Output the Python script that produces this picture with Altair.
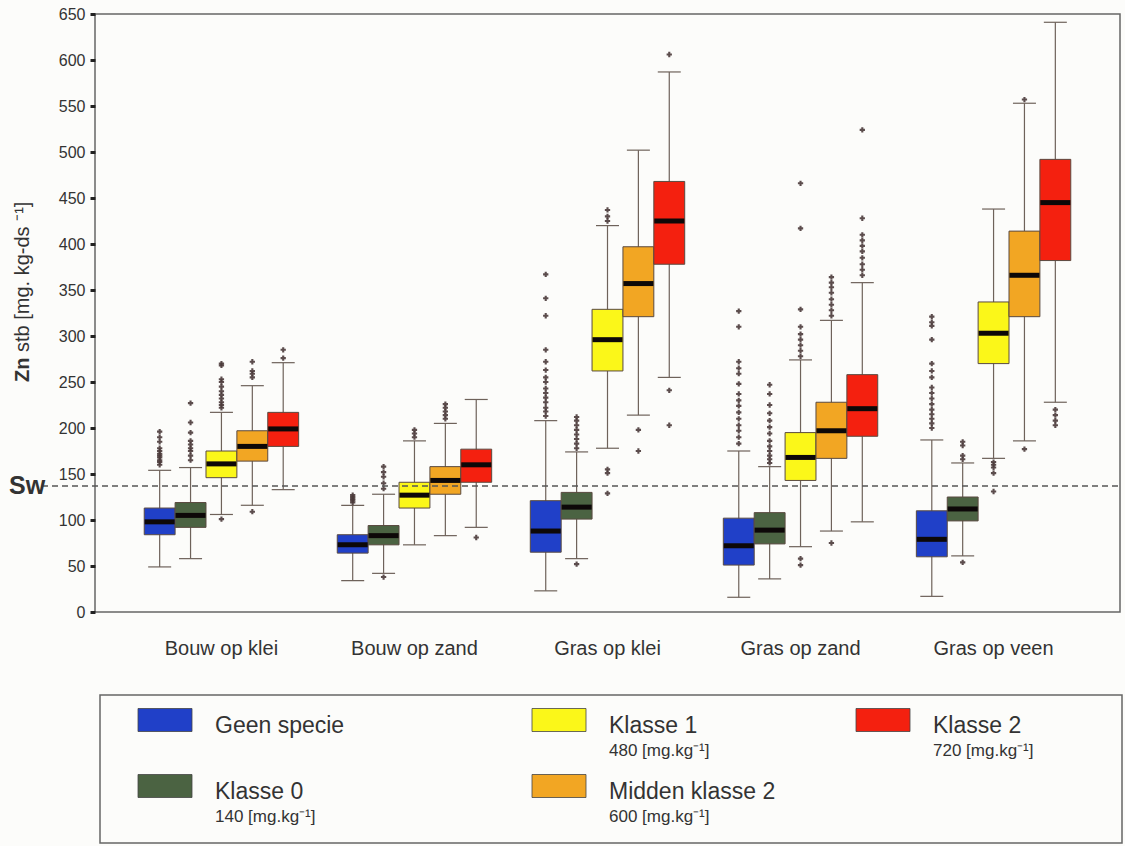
import altair as alt
import pandas as pd

# ---------------- data ----------------
groups = ["Bouw op klei", "Bouw op zand", "Gras op klei", "Gras op zand", "Gras op veen"]
classes = ["Geen specie", "Klasse 0", "Klasse 1", "Midden klasse 2", "Klasse 2"]
class_colors = ["#2040c8", "#4b6342", "#fbf719", "#f2a623", "#f4200f"]

# per group: one value per class (Geen specie, Klasse 0, Klasse 1, Midden klasse 2, Klasse 2)
whisk_lo = {
    "Bouw op klei": [49, 58, 106, 116, 133],
    "Bouw op zand": [34, 42, 73, 83, 92],
    "Gras op klei": [23, 58, 178, 214, 255],
    "Gras op zand": [16, 36, 71, 88, 98],
    "Gras op veen": [17, 61, 167, 186, 228],
}
q1 = {
    "Bouw op klei": [84, 92, 146, 164, 180],
    "Bouw op zand": [64, 73, 113, 128, 141],
    "Gras op klei": [65, 101, 262, 321, 378],
    "Gras op zand": [51, 74, 143, 167, 191],
    "Gras op veen": [60, 99, 270, 321, 382],
}
median = {
    "Bouw op klei": [98, 105, 161, 180, 199],
    "Bouw op zand": [73, 83, 127, 143, 160],
    "Gras op klei": [88, 114, 296, 357, 425],
    "Gras op zand": [72, 89, 168, 197, 221],
    "Gras op veen": [79, 112, 303, 366, 445],
}
q3 = {
    "Bouw op klei": [113, 119, 175, 197, 217],
    "Bouw op zand": [84, 94, 141, 158, 177],
    "Gras op klei": [121, 130, 329, 397, 468],
    "Gras op zand": [102, 108, 195, 228, 258],
    "Gras op veen": [110, 125, 337, 414, 492],
}
whisk_hi = {
    "Bouw op klei": [154, 157, 217, 246, 271],
    "Bouw op zand": [116, 128, 186, 205, 231],
    "Gras op klei": [208, 174, 420, 502, 587],
    "Gras op zand": [175, 158, 274, 317, 358],
    "Gras op veen": [187, 162, 438, 553, 641],
}
outliers = {
    "Bouw op klei": [
        [160, 163, 165, 168, 170, 172, 175, 178, 185, 190, 196],
        [165, 170, 175, 178, 182, 186, 195, 206, 227],
        [101, 222, 225, 228, 232, 236, 240, 245, 250, 253, 268, 270],
        [109, 255, 259, 262, 272],
        [276, 285],
    ],
    "Bouw op zand": [
        [119, 121, 123, 125, 127],
        [38, 134, 140, 147, 152, 158],
        [190, 194, 198],
        [210, 214, 218, 222, 226],
        [81],
    ],
    "Gras op klei": [
        [213, 218, 222, 228, 233, 238, 243, 250, 255, 263, 272, 285, 322, 341, 367],
        [52, 178, 183, 188, 193, 198, 203, 208, 212],
        [129, 151, 155, 425, 430, 437],
        [175, 198],
        [203, 241, 606],
    ],
    "Gras op zand": [
        [183, 190, 197, 203, 210, 217, 224, 230, 237, 248, 259, 265, 272, 310, 327],
        [162, 166, 170, 175, 180, 186, 194, 201, 208, 216, 225, 237, 247],
        [51, 58, 278, 284, 290, 296, 302, 310, 329, 417, 466],
        [75, 322, 328, 334, 340, 347, 353, 358, 364],
        [366, 372, 378, 385, 392, 398, 404, 410, 428, 524],
    ],
    "Gras op veen": [
        [200, 205, 210, 215, 220, 226, 232, 238, 244, 255, 262, 270, 296, 311, 315, 321],
        [54, 166, 170, 181, 185],
        [131, 151, 157, 160, 163],
        [177, 557],
        [203, 208, 214, 220],
    ],
}
sw_value = 137
y_ticks = list(range(0, 651, 50))

legend_cols = [0, 0, 1, 1, 2]
legend_rows = [0, 1, 0, 1, 0]
legend_subs = ["", "140 [mg.kg\u207b\u00b9]", "480 [mg.kg\u207b\u00b9]",
               "600 [mg.kg\u207b\u00b9]", "720 [mg.kg\u207b\u00b9]"]

# ---------------- tables ----------------
box_rows = []
out_rows = []
for g in groups:
    for i, c in enumerate(classes):
        box_rows.append({"group": g, "cls": c, "lo": whisk_lo[g][i], "q1": q1[g][i],
                         "med": median[g][i], "q3": q3[g][i], "hi": whisk_hi[g][i]})
        for v in outliers[g][i]:
            out_rows.append({"group": g, "cls": c, "value": v})
box_df = pd.DataFrame(box_rows)
out_df = pd.DataFrame(out_rows)
leg_df = pd.DataFrame({"cls": classes, "col": legend_cols, "row": legend_rows, "sub": legend_subs})

FONT = "Liberation Sans"
W, H = 1025, 598

xenc = alt.X("group:N", sort=groups,
             scale=alt.Scale(domain=groups, paddingInner=0.2, paddingOuter=0.255),
             axis=alt.Axis(title=None, labelFontSize=20, labelFont=FONT, labelColor="#333",
                           labelPadding=26, ticks=False, domain=False, labelAngle=0))
xoff = alt.XOffset("cls:N", sort=classes, scale=alt.Scale(domain=classes, paddingInner=0))
yscale = alt.Scale(domain=[0, 650], nice=False, zero=True)
color = alt.Color("cls:N", scale=alt.Scale(domain=classes, range=class_colors), legend=None)

base = alt.Chart(box_df)

whisk = base.mark_rule(color="#6e625a", strokeWidth=1.2).encode(
    x=xenc, xOffset=xoff,
    y=alt.Y("lo:Q", scale=yscale,
            axis=alt.Axis(title=None, values=y_ticks, labelFontSize=16, labelFont=FONT,
                          labelColor="#333", tickSize=5, tickWidth=3, tickColor="#222",
                          labelPadding=5, domain=False, grid=False)),
    y2="hi:Q",
)
boxes = base.mark_bar(stroke="#5a4a40", strokeWidth=1, opacity=1).encode(
    x=xenc, xOffset=xoff, y=alt.Y("q1:Q", scale=yscale), y2="q3:Q", color=color
)
meds = base.mark_tick(color="#0d0808", thickness=5, size=30, opacity=1).encode(
    x=xenc, xOffset=xoff, y=alt.Y("med:Q", scale=yscale)
)
cap_lo = base.mark_tick(color="#6e625a", thickness=1.2, size=23, opacity=1).encode(
    x=xenc, xOffset=xoff, y=alt.Y("lo:Q", scale=yscale)
)
cap_hi = base.mark_tick(color="#6e625a", thickness=1.2, size=23, opacity=1).encode(
    x=xenc, xOffset=xoff, y=alt.Y("hi:Q", scale=yscale)
)
outs = alt.Chart(out_df).mark_point(shape="cross", filled=True, size=28, color="#4a3a3a",
                                    opacity=0.9).encode(
    x=xenc, xOffset=xoff, y=alt.Y("value:Q", scale=yscale)
)

one = alt.Data(values=[{}])
sw_rule = alt.Chart(one).mark_rule(color="#555", strokeWidth=1.5, strokeDash=[6, 4]).encode(
    x=alt.value(-53), x2=alt.value(W), y=alt.Y(datum=sw_value, scale=yscale)
)
sw_text = alt.Chart(one).mark_text(text="Sw", font=FONT, fontSize=25, fontWeight="bold",
                                   align="left", baseline="middle", color="#333").encode(
    x=alt.value(-86), y=alt.Y(datum=sw_value, scale=yscale)
)
title_zn = alt.Chart(one).mark_text(text="Zn", font=FONT, fontSize=20, fontWeight="bold",
                                    angle=270, align="left", baseline="middle",
                                    color="#333").encode(
    x=alt.value(-72), y=alt.value(368)
)
title_rest = alt.Chart(one).mark_text(text="stb [mg. kg-ds \u207b\u00b9]", font=FONT, fontSize=20,
                                      angle=270, align="left", baseline="middle",
                                      color="#333").encode(
    x=alt.value(-72), y=alt.value(338)
)

main = alt.layer(whisk, boxes, meds, cap_lo, cap_hi, outs, sw_rule, sw_text, title_zn, title_rest)

# ---------------- legend panel ----------------
lx = alt.X("col:Q", scale=alt.Scale(domain=[0, 1, 2], range=[70, 464, 788], zero=False, nice=False),
           axis=None)
ly = alt.Y("row:Q", scale=alt.Scale(domain=[0, 1], range=[706, 772], zero=False, nice=False),
           axis=None)
lbase = alt.Chart(leg_df)
frame = alt.Chart(one).mark_rect(fill="transparent", stroke="#666", strokeWidth=1.5).encode(
    x=alt.value(5), x2=alt.value(1027), y=alt.value(681), y2=alt.value(829)
)
swatch = lbase.mark_tick(orient="horizontal", size=54, thickness=23, stroke="#444",
                         strokeWidth=0.8, opacity=1).encode(x=lx, y=ly, color=color)
names = lbase.mark_text(align="left", baseline="middle", dx=50, dy=6, font=FONT, fontSize=23,
                        color="#333").encode(x=lx, y=ly, text="cls:N")
subs = lbase.mark_text(align="left", baseline="middle", dx=50, dy=31, font=FONT, fontSize=17,
                       color="#333").encode(x=lx, y=ly, text="sub:N")
legend = alt.layer(frame, swatch, names, subs)

chart = alt.layer(main, legend).resolve_scale(x="independent", y="independent").properties(
    width=W, height=H,
    autosize=alt.AutoSizeParams(type="none"),
    padding={"left": 95, "top": 14, "right": 5, "bottom": 234},
    background="#fcfcfa",
).configure_view(stroke="#666", strokeWidth=1.5)

chart.save("out.html", embed_options={"renderer": "svg", "actions": False})
